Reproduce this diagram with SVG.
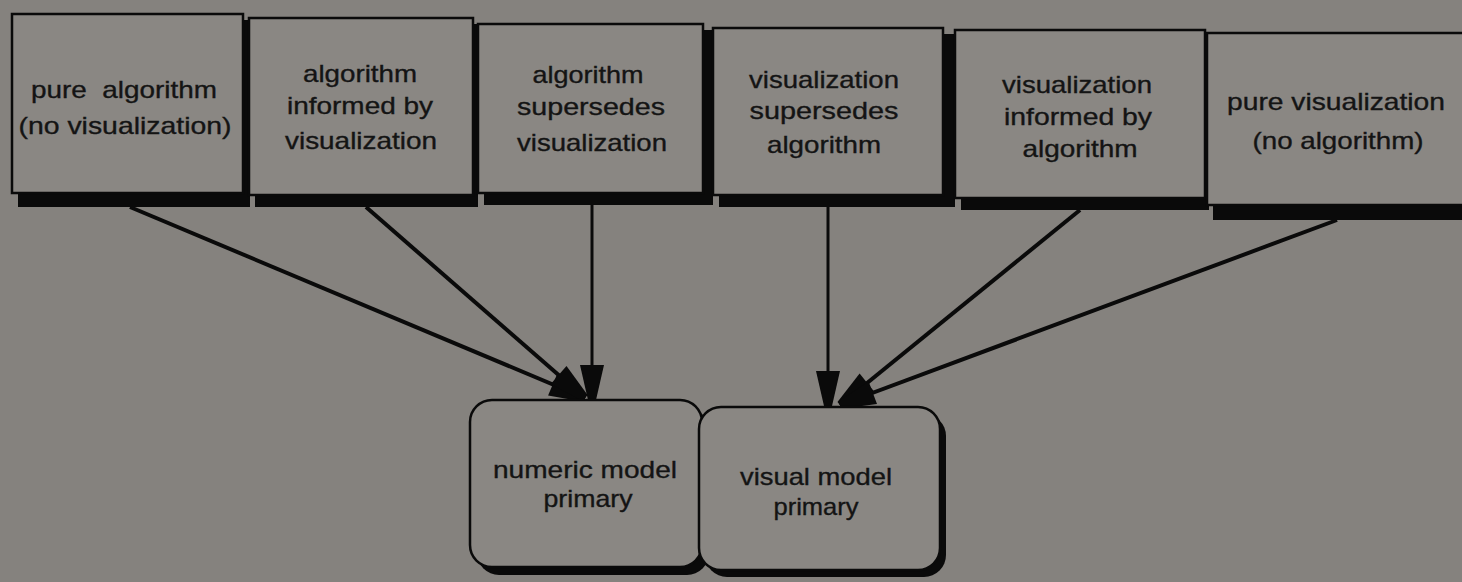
<svg xmlns="http://www.w3.org/2000/svg" width="1462" height="582" viewBox="0 0 1462 582">
<style>
.bg{fill:#85827e}
.box{fill:#8a8783;stroke:#0a0a0a;stroke-width:2.5}
.sh{fill:#0a0a0a}
.t{font-family:"Liberation Sans",Arial,Helvetica,sans-serif;font-size:24px;fill:#141414;stroke:#141414;stroke-width:0.35;text-anchor:middle}
.ln{stroke:#0a0a0a;stroke-width:4;fill:none}
.lv{stroke:#0a0a0a;stroke-width:3;fill:none}
</style>
<defs>
<marker id="ah" markerUnits="userSpaceOnUse" viewBox="-36 -13 38 26" refX="0" refY="0" markerWidth="38" markerHeight="26" orient="auto">
<path d="M-35,-12 L0,-4 L0,4 L-35,12 Z" fill="#0a0a0a"/>
</marker>
</defs>
<rect class="bg" x="0" y="0" width="1462" height="582"/>
<g id="connectors">
<line class="ln" x1="130" y1="207" x2="585" y2="398" marker-end="url(#ah)"/>
<line class="ln" x1="366" y1="207" x2="585" y2="398" marker-end="url(#ah)"/>
<line class="lv" x1="592" y1="205" x2="592" y2="400" marker-end="url(#ah)"/>
<line class="lv" x1="828" y1="207" x2="828" y2="406" marker-end="url(#ah)"/>
<line class="ln" x1="1080" y1="210" x2="840" y2="405" marker-end="url(#ah)"/>
<line class="ln" x1="1337" y1="220" x2="840" y2="405" marker-end="url(#ah)"/>
</g>
<g id="n1">
<rect class="sh" x="18" y="20" width="232" height="187"/>
<rect class="box" x="12" y="14" width="231" height="179"/>
<text class="t" x="124" y="98" textLength="186" lengthAdjust="spacingAndGlyphs" xml:space="preserve">pure  algorithm</text>
<text class="t" x="125" y="134" textLength="213" lengthAdjust="spacingAndGlyphs">(no visualization)</text>
</g>
<g id="n2">
<rect class="sh" x="255" y="24" width="223" height="183"/>
<rect class="box" x="249" y="18" width="224" height="177"/>
<text class="t" x="360" y="82" textLength="114" lengthAdjust="spacingAndGlyphs">algorithm</text>
<text class="t" x="360" y="114" textLength="146" lengthAdjust="spacingAndGlyphs">informed by</text>
<text class="t" x="361" y="149" textLength="152" lengthAdjust="spacingAndGlyphs">visualization</text>
</g>
<g id="n3">
<rect class="sh" x="484" y="30" width="229" height="175"/>
<rect class="box" x="478" y="24" width="225" height="169"/>
<text class="t" x="588" y="83" textLength="111" lengthAdjust="spacingAndGlyphs">algorithm</text>
<text class="t" x="591" y="115" textLength="148" lengthAdjust="spacingAndGlyphs">supersedes</text>
<text class="t" x="592" y="151" textLength="150" lengthAdjust="spacingAndGlyphs">visualization</text>
</g>
<g id="n4">
<rect class="sh" x="719" y="34" width="236" height="173"/>
<rect class="box" x="713" y="28" width="230" height="167"/>
<text class="t" x="824" y="88" textLength="150" lengthAdjust="spacingAndGlyphs">visualization</text>
<text class="t" x="824" y="119" textLength="149" lengthAdjust="spacingAndGlyphs">supersedes</text>
<text class="t" x="824" y="153" textLength="114" lengthAdjust="spacingAndGlyphs">algorithm</text>
</g>
<g id="n5">
<rect class="sh" x="961" y="36" width="248" height="174"/>
<rect class="box" x="955" y="30" width="250" height="168"/>
<text class="t" x="1077" y="93" textLength="150" lengthAdjust="spacingAndGlyphs">visualization</text>
<text class="t" x="1078" y="125" textLength="148" lengthAdjust="spacingAndGlyphs">informed by</text>
<text class="t" x="1080" y="157" textLength="115" lengthAdjust="spacingAndGlyphs">algorithm</text>
</g>
<g id="n6">
<rect class="sh" x="1213" y="39" width="260" height="181"/>
<rect class="box" x="1207" y="33" width="262" height="172"/>
<text class="t" x="1336" y="110" textLength="218" lengthAdjust="spacingAndGlyphs">pure visualization</text>
<text class="t" x="1338" y="149" textLength="171" lengthAdjust="spacingAndGlyphs">(no algorithm)</text>
</g>
<g id="n7">
<rect class="sh" x="477" y="408" width="232" height="167" rx="22"/>
<rect class="box" x="470" y="400" width="232" height="167" rx="22" stroke-width="3"/>
<text class="t" x="585" y="478" textLength="184" lengthAdjust="spacingAndGlyphs">numeric model</text>
<text class="t" x="588" y="507" textLength="89" lengthAdjust="spacingAndGlyphs">primary</text>
</g>
<g id="n8">
<rect class="sh" x="705" y="414" width="241" height="163" rx="22"/>
<rect class="box" x="699" y="407" width="241" height="163" rx="22" stroke-width="3"/>
<text class="t" x="816" y="485" textLength="152" lengthAdjust="spacingAndGlyphs">visual model</text>
<text class="t" x="816" y="515" textLength="85" lengthAdjust="spacingAndGlyphs">primary</text>
</g>
</svg>
